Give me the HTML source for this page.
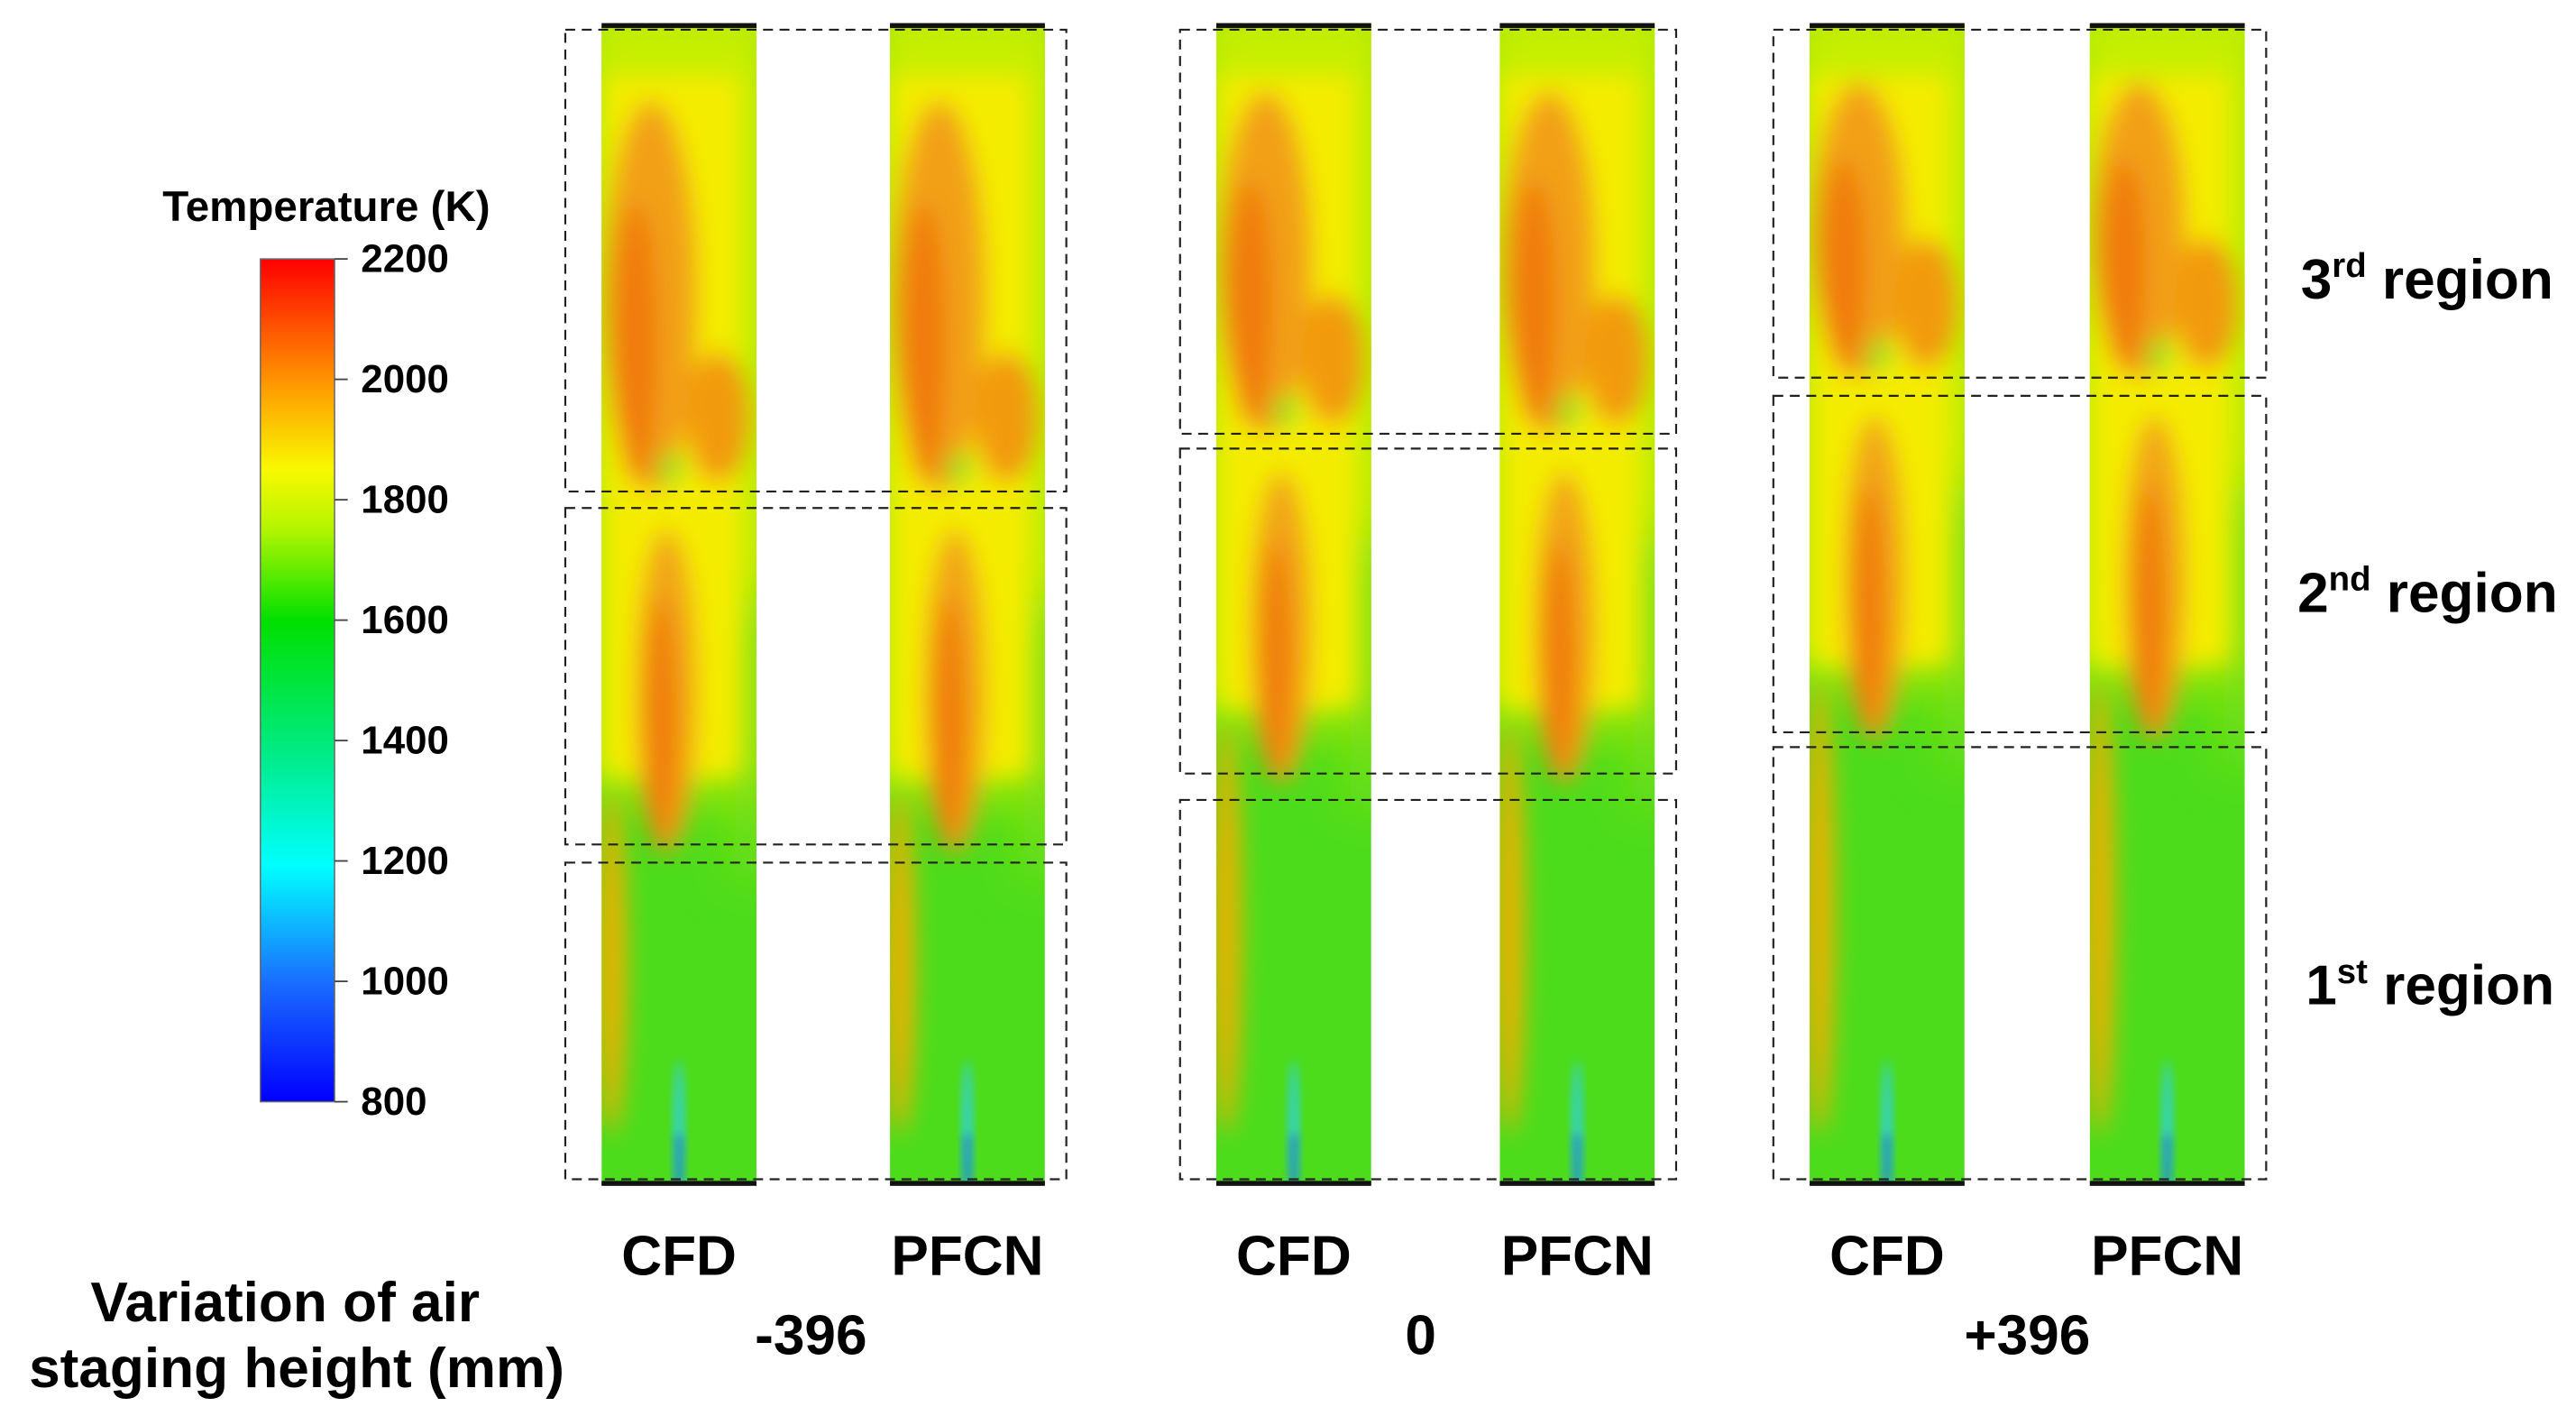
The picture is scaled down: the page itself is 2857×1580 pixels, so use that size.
<!DOCTYPE html>
<html><head><meta charset="utf-8"><style>
html,body{margin:0;padding:0;background:#fff;}
svg{display:block;}
text{font-family:"Liberation Sans",Arial,sans-serif;font-weight:bold;fill:#000;}
</style></head><body>
<svg id="fig" width="2857" height="1580" viewBox="0 0 1563 864" preserveAspectRatio="none" xmlns="http://www.w3.org/2000/svg">
<defs>
<linearGradient id="cbar" x1="0" y1="1" x2="0" y2="0">
<stop offset="0" stop-color="#0000ff"/>
<stop offset="0.14" stop-color="#1a6cff"/>
<stop offset="0.28" stop-color="#00ffff"/>
<stop offset="0.42" stop-color="#00ea80"/>
<stop offset="0.57" stop-color="#00e000"/>
<stop offset="0.68" stop-color="#b4f500"/>
<stop offset="0.75" stop-color="#f8f800"/>
<stop offset="0.85" stop-color="#ff9a00"/>
<stop offset="1" stop-color="#ff0000"/>
</linearGradient>
<filter id="blur" x="-50%" y="-20%" width="200%" height="140%"><feGaussianBlur stdDeviation="7"/></filter>
<filter id="blurL" x="-50%" y="-20%" width="200%" height="140%"><feGaussianBlur stdDeviation="16"/></filter>
<filter id="blur2" x="-50%" y="-20%" width="200%" height="140%"><feGaussianBlur stdDeviation="3"/></filter>
</defs>
<g id="panels"></g>
<g id="boxes"></g>
<g id="colorbar">
<text x="198" y="134" font-size="26" text-anchor="middle">Temperature (K)</text>
<rect x="158" y="157" width="45" height="511" fill="url(#cbar)" stroke="#666" stroke-width="0.8"/>
</g>
<text x="173" y="801" font-size="34" text-anchor="middle">Variation of air</text>
<text x="180" y="841" font-size="34" text-anchor="middle">staging height (mm)</text>
<text x="1396" y="181" font-size="34">3<tspan font-size="21" dy="-13">rd</tspan><tspan dy="13"> region</tspan></text>
<text x="1394" y="371" font-size="34">2<tspan font-size="21" dy="-13">nd</tspan><tspan dy="13"> region</tspan></text>
<text x="1399" y="609" font-size="34">1<tspan font-size="21" dy="-13">st</tspan><tspan dy="13"> region</tspan></text>
</svg>
<script>
const cbTicks=[2200,2000,1800,1600,1400,1200,1000,800];
const cbMin=800, cbMax=2200;
const groupLabels=['-396','0','+396'];
const groupCenters=[492,862,1230];
const region3Bottom=[298,263,229];
const region2Top=[308,272,240];
const region2Bottom=[512,469,444];
const region1Top=[523,485,453];
const hotTip=[510,468,442];
const NS='http://www.w3.org/2000/svg';
function el(tag,attrs,parent){const e=document.createElementNS(NS,tag);for(const k in attrs)e.setAttribute(k,attrs[k]);parent.appendChild(e);return e;}
const fig=document.getElementById('fig');
const cb=document.getElementById('colorbar');
function yCb(v){return 668-(v-cbMin)/(cbMax-cbMin)*511;}
cbTicks.forEach(t=>{
  const l=el('line',{x1:203,x2:211,y1:yCb(t),y2:yCb(t),stroke:'#444','stroke-width':1},cb);
  
  
  const tx=el('text',{x:219,y:yCb(t)+8,'font-size':24},cb);
  tx.textContent=t;
  
  
});
const panelsG=document.getElementById('panels');
const boxesG=document.getElementById('boxes');
const panelX=[[365,540],[738,910],[1098,1268]];
const W=94, TOP=16, BOT=718;
groupLabels.forEach((g,i)=>{
  panelX[i].forEach((x0,j)=>{
    const pg=el('g',{},panelsG);
    
    
    const cid='clip'+i+j;
    const cp=el('clipPath',{id:cid},pg);el('rect',{x:x0,y:TOP,width:W,height:BOT-TOP},cp);
    const c=el('g',{'clip-path':'url(#'+cid+')'},pg);
    el('rect',{x:x0,y:TOP,width:W,height:BOT-TOP,fill:'#4cdc1c'},c);
    const r3=region3Bottom[i], tip=hotTip[i];
    const bl=el('g',{filter:'url(#blurL)'},c);
    el('rect',{x:x0-20,y:TOP-20,width:W+40,height:tip-TOP-10,fill:'#c8ee00'},bl);
    el('rect',{x:x0+W*0.85,y:(r3+tip)/2-40,width:W*0.3,height:(tip-r3)/2+60,fill:'#7ee010'},bl);
    const b=el('g',{filter:'url(#blur)'},c);
    el('rect',{x:x0+2,y:TOP+30,width:W-12,height:tip-TOP-70,fill:'#f4ec00'},b);
    el('ellipse',{cx:x0+W*0.32,cy:TOP+(r3-TOP)*0.58,rx:W*0.3,ry:(r3-TOP)*0.42,fill:'#f2a012'},b);
    el('ellipse',{cx:x0+W*0.22,cy:TOP+(r3-TOP)*0.68,rx:W*0.14,ry:(r3-TOP)*0.3,fill:'#f07a10'},b);
    el('ellipse',{cx:x0+W*0.75,cy:r3-45,rx:W*0.2,ry:40,fill:'#f29a10'},b);
    el('ellipse',{cx:x0+W*0.42,cy:(r3+tip)/2+15,rx:W*0.2,ry:(tip-r3)/2-8,fill:'#f2a414'},b);
    el('ellipse',{cx:x0+W*0.38,cy:(r3+tip)/2+35,rx:W*0.1,ry:(tip-r3)/2-30,fill:'#f07a10'},b);
    el('ellipse',{cx:x0+6,cy:(tip+BOT)/2-30,rx:9,ry:(BOT-tip)/2,fill:'#f0b000'},b);
    el('ellipse',{cx:x0+W*0.45,cy:r3-14,rx:7,ry:10,fill:'#8fe020'},b);
    const b2=el('g',{filter:'url(#blur2)'},c);
    el('ellipse',{cx:x0+W*0.5,cy:BOT-30,rx:3,ry:45,fill:'#30d0e0'},b2);
    el('rect',{x:x0+W*0.5-1.5,y:BOT-30,width:3,height:30,fill:'#1040ff'},b2);
    el('rect',{x:x0,y:TOP-2,width:W,height:3,fill:'#111'},pg);
    el('rect',{x:x0,y:BOT-2,width:W,height:3,fill:'#111'},pg);
    const lab=el('text',{x:x0+W/2,y:773,'font-size':34,'text-anchor':'middle'},fig);
    lab.textContent=j?'PFCN':'CFD';
    
    
  });
  const bx0=panelX[i][0]-22;
  const bw2=(panelX[i][1]+W+13)-bx0;
  [[18,region3Bottom[i]],[region2Top[i],region2Bottom[i]],[region1Top[i],715]].forEach((r,k)=>{
    const rr=el('rect',{x:bx0,y:r[0],width:bw2,height:r[1]-r[0],fill:'none',stroke:'#222','stroke-width':1.2,'stroke-dasharray':'6,4'},boxesG);
    
    
  });
  const gl=el('text',{x:groupCenters[i],y:821,'font-size':34,'text-anchor':'middle'},fig);
  gl.textContent=g;
  
  
});
</script>
</body></html>
